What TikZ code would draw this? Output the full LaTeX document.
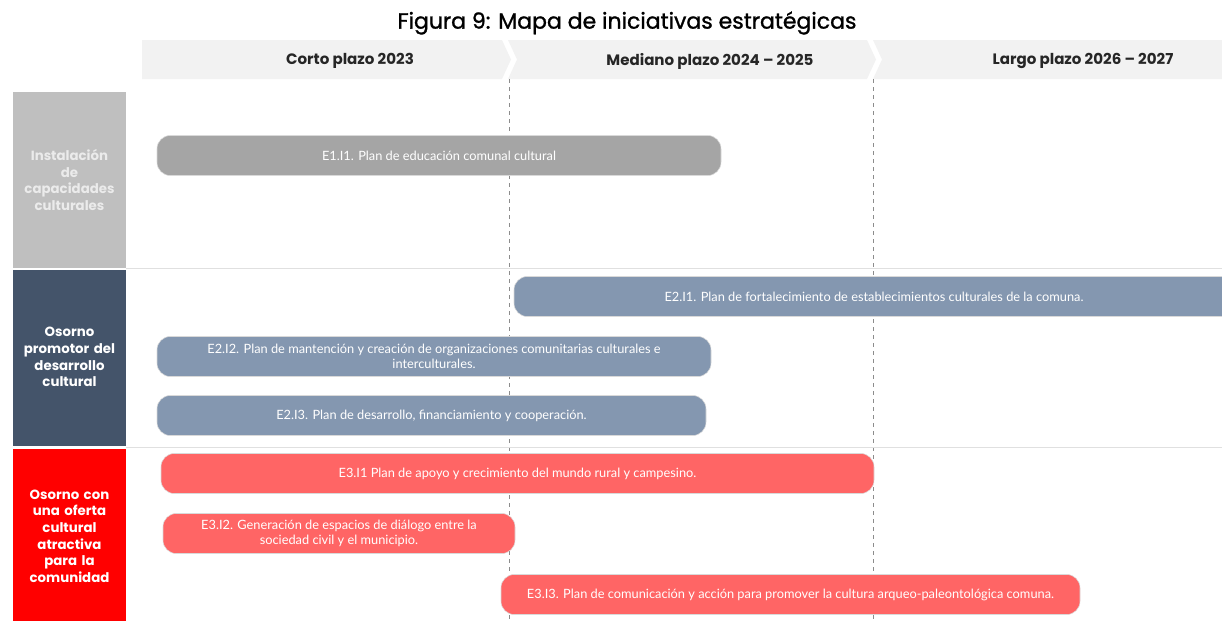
\documentclass[tikz,border=0pt]{standalone}
\usepackage{fontspec}
\setmainfont{Lato}
\newfontfamily\headfont[Ligatures=TeX]{Poppins}
\newfontfamily\titlefont[Ligatures=TeX,FakeBold=1.2]{Poppins}
\usepackage{tikz}
\usetikzlibrary{positioning}

\definecolor{bandgray}{HTML}{F2F2F2}
\definecolor{rowone}{HTML}{BFBFBF}
\definecolor{rowtwo}{HTML}{44546A}
\definecolor{rowthree}{HTML}{FF0000}
\definecolor{barone}{HTML}{A5A5A5}
\definecolor{bartwo}{HTML}{8497B0}
\definecolor{barthree}{HTML}{FF6565}

\begin{document}
\begin{tikzpicture}[x=0.75pt,y=-0.75pt,
    every node/.style={inner sep=0pt, outer sep=0pt},
    period/.style={font=\headfont\bfseries\fontsize{11.3}{13}\selectfont, text=black!85},
    rowlabel/.style={font=\headfont\bfseries\fontsize{10}{12.5}\selectfont, text=white, align=center, text width=80pt},
    initiative/.style={rounded corners=10pt, draw=white!70!gray, line width=0.4pt, text=white,
        font=\fontsize{9.6}{11.5}\selectfont, align=center, minimum height=30pt},
]
\useasboundingbox (0,0) rectangle (1222,621);

% title
\node (title) at (627,23) {\titlefont\fontsize{16.5}{19}\selectfont Figura 9: Mapa de iniciativas estrat\'egicas};

% period band with chevrons
\fill[bandgray] (142,40) -- (502,40) -- (511,59.5) -- (502,79) -- (142,79) -- cycle;
\fill[bandgray] (508,40) -- (867,40) -- (876,59.5) -- (867,79) -- (508,79) -- (517,59.5) -- cycle;
\fill[bandgray] (873,40) -- (1222,40) -- (1222,79) -- (873,79) -- (882,59.5) -- cycle;

\node[period] (corto) at (350,61) {Corto plazo 2023};
\node[period] (mediano) at (710,61) {Mediano plazo 2024 -- 2025};
\node[period] (largo) at (1083,61) {Largo plazo 2026 -- 2027};

% dashed period limits
\draw[black!45, dashed, line width=0.5pt] (509,79) -- (509,621);
\draw[black!45, dashed, line width=0.5pt] (873,79) -- (873,621);

% row separators
\draw[black!12, line width=1pt] (126,268.5) -- (1222,268.5);
\draw[black!12, line width=1pt] (126,447.5) -- (1222,447.5);

% strategic axes
\fill[rowone] (13,92) rectangle (126,268);
\fill[rowtwo] (13,270) rectangle (126,446);
\fill[rowthree] (13,449) rectangle (126,621);

\node[rowlabel, text=white!92!black] (eje1) at (69.5,180) {Instalaci\'on\\de\\capacidades\\culturales};
\node[rowlabel] (eje2) at (69.5,357) {Osorno\\promotor del\\desarrollo\\cultural};
\node[rowlabel] (eje3) at (69.5,536) {Osorno con\\una oferta\\cultural\\atractiva\\para la\\comunidad};

% initiatives
\node[initiative, fill=barone, minimum width=423pt] (e1i1) at (439,155.5)
    {E1.I1. Plan de educaci\'on comunal cultural};

\node[initiative, fill=bartwo, minimum width=540pt] (e2i1) at (874,296.5)
    {E2.I1. Plan de fortalecimiento de establecimientos culturales de la comuna.};
\node[initiative, fill=bartwo, minimum width=415.5pt] (e2i2) at (434,356.5)
    {E2.I2. Plan de mantenci\'on y creaci\'on de organizaciones comunitarias culturales e\\interculturales.};
\node[initiative, fill=bartwo, minimum width=411.75pt] (e2i3) at (431.5,415.5)
    {E2.I3. Plan de desarrollo, financiamiento y cooperaci\'on.};

\node[initiative, fill=barthree, minimum width=534.75pt] (e3i1) at (517.5,473.5)
    {E3.I1 Plan de apoyo y crecimiento del mundo rural y campesino.};
\node[initiative, fill=barthree, minimum width=264pt] (e3i2) at (339,533.5)
    {E3.I2. Generaci\'on de espacios de di\'alogo entre la\\sociedad civil y el municipio.};
\node[initiative, fill=barthree, minimum width=434.25pt] (e3i3) at (790.5,594.5)
    {E3.I3. Plan de comunicaci\'on y acci\'on para promover la cultura arqueo-paleontol\'ogica comuna.};

\end{tikzpicture}
\end{document}
